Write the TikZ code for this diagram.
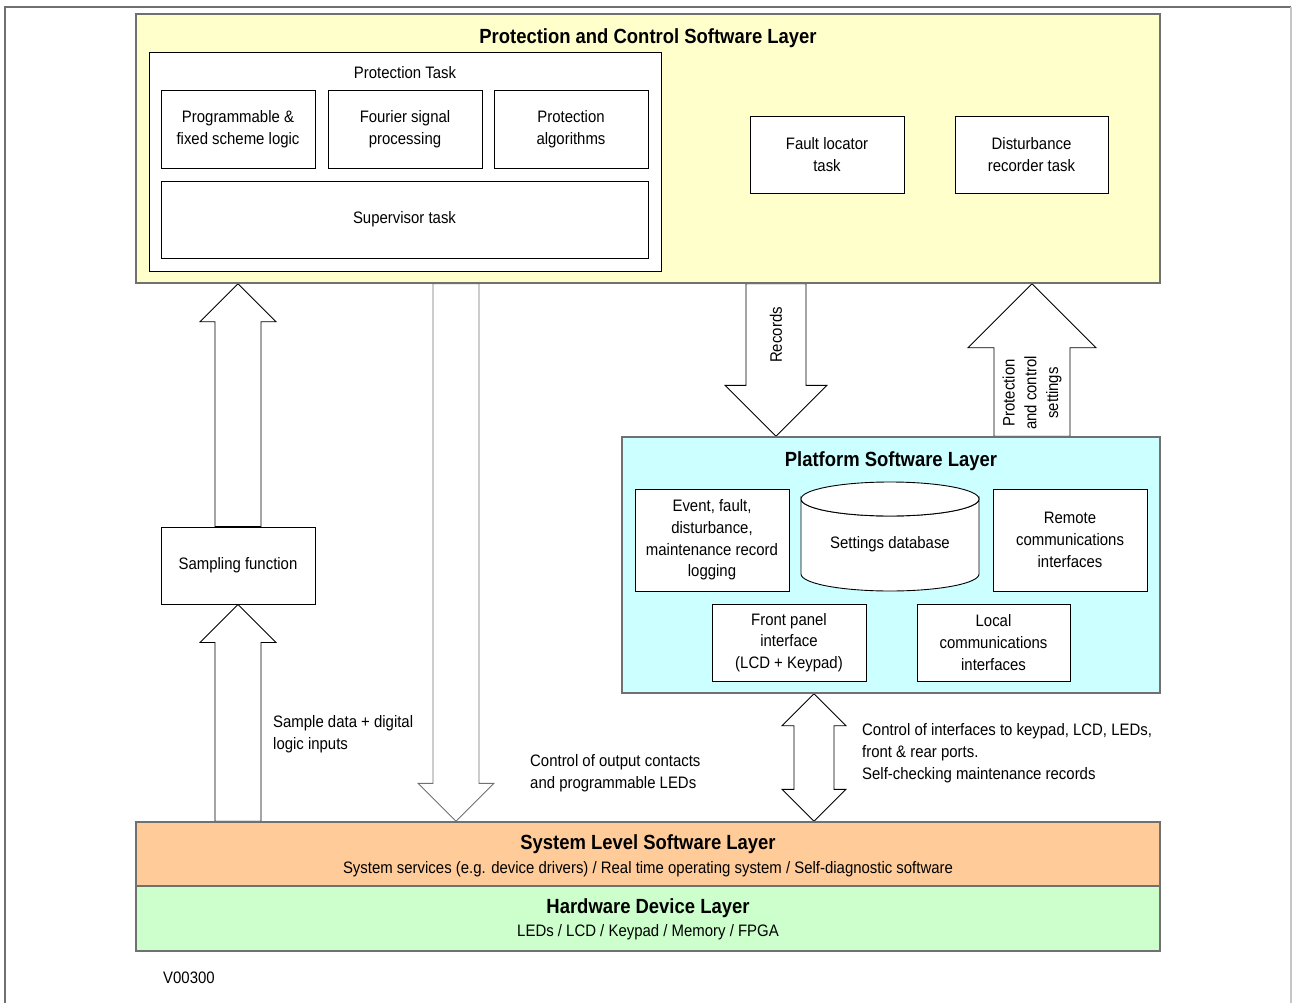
\documentclass[tikz,border=0pt]{standalone}
\usepackage{fontspec}
\setmainfont{Liberation Sans}[FakeStretch=0.9]
\usetikzlibrary{calc,backgrounds}
\definecolor{pcly}{HTML}{FFFFCC}
\definecolor{platc}{HTML}{CCFFFF}
\definecolor{syso}{HTML}{FFCC99}
\definecolor{hwg}{HTML}{CCFFCC}
\definecolor{framegray}{HTML}{707070}
% #2 base point, #3 tip point, #4 shaft half width, #5 head half width, #6 direction (1 up, (-1) down)
\newcommand\vblockarrow[6][]{%
  \path[blockarr,#1] let \p1=(#2), \p2=(#3) in
   ({\x1-#4pt},\y1) -- ({\x1-#4pt},{\y2-#6*#5pt}) -- ({\x1-#5pt},{\y2-#6*#5pt}) -- (\x2,\y2)
   -- ({\x1+#5pt},{\y2-#6*#5pt}) -- ({\x1+#4pt},{\y2-#6*#5pt}) -- ({\x1+#4pt},\y1) -- cycle;}
\begin{document}
\begin{tikzpicture}[x=1pt,y=-1pt,
  txt/.style={font=\fontsize{16.6}{21.7}\selectfont, align=center, inner sep=0pt},
  ltxt/.style={font=\fontsize{16.6}{21.7}\selectfont, align=left, inner sep=0pt, anchor=west},
  ttl/.style={font=\fontsize{20.5}{24}\selectfont\bfseries, inner sep=0pt},
  layer/.style={draw=framegray, line width=1.4pt, inner sep=0pt},
  box/.style={draw=black, line width=0.9pt, fill=white, inner sep=0pt, align=center,
              font=\fontsize{16.6}{21.7}\selectfont},
  blockarr/.style={draw=black, line width=0.9pt, fill=white, line join=miter},
]
\useasboundingbox (0,0) rectangle (1292,1003);
% outer frame
\draw[framegray, line width=2pt] (5,1003) -- (5,7) -- (1291,7);
\draw[gray!45, line width=1.2pt] (1291,7) -- (1291,1003);

% Protection and control software layer
\node[layer, fill=pcly, minimum width=1024pt, minimum height=269pt] (pcl) at (648,148.5) {};
\node[ttl] (pcltitle) at (648,38.5) {Protection and Control Software Layer};
\node[box, minimum width=512pt, minimum height=219pt] (ptask) at (405,161.5) {};
\node[txt] (ptasklbl) at (405,73) {Protection Task};
\node[box, minimum width=154pt, minimum height=78pt] (prog) at (238,129) {Programmable \&\\fixed scheme logic};
\node[box, minimum width=154pt, minimum height=78pt] (fourier) at (405,129) {Fourier signal\\processing};
\node[box, minimum width=154pt, minimum height=78pt] (alg) at (571,129) {Protection\\algorithms};
\node[box, minimum width=487pt, minimum height=77pt] (sup) at (404.5,219.5) {Supervisor task};
\node[box, minimum width=154pt, minimum height=77pt] (fault) at (827,154.5) {Fault locator\\task};
\node[box, minimum width=153pt, minimum height=77pt] (dist) at (1031.5,154.5) {Disturbance\\recorder task};

% sampling
\node[box, minimum width=154pt, minimum height=77pt] (samp) at (238,565.5) {Sampling function};

% platform layer
\node[layer, fill=platc, minimum width=538pt, minimum height=256pt] (plat) at (891,565) {};
\node[ttl] (plattitle) at (891,461.5) {Platform Software Layer};
\node[box, minimum width=154pt, minimum height=102pt] (event) at (712,540) {Event, fault,\\disturbance,\\maintenance record\\logging};
\filldraw[draw=black, line width=0.9pt, fill=white] (801,499) -- (801,574) arc (180:0:89 and 17) -- (979,499) arc (0:180:89 and 17) -- cycle;
\filldraw[draw=black, line width=0.9pt, fill=white] (890,499) ellipse (89 and 17);
\node[txt] (db) at (890,544) {Settings database};
\node[box, minimum width=154pt, minimum height=102pt] (remote) at (1070,540) {Remote\\communications\\interfaces};
\node[box, minimum width=154pt, minimum height=77pt] (front) at (789,642.5) {Front panel\\interface\\(LCD + Keypad)};
\node[box, minimum width=153pt, minimum height=77pt] (local) at (993.5,642.5) {Local\\communications\\interfaces};

% system and hardware layers
\node[layer, fill=syso, minimum width=1024pt, minimum height=64pt] (sys) at (648,854) {};
\node[ttl] (systitle) at (648,844.5) {System Level Software Layer};
\node[txt] (syssub) at (648,869) {System services (e.g. device drivers) / Real time operating system / Self-diagnostic software};
\node[layer, fill=hwg, minimum width=1024pt, minimum height=65pt] (hw) at (648,918.5) {};
\node[ttl] (hwtitle) at (648,908.5) {Hardware Device Layer};
\node[txt] (hwsub) at (648,932) {LEDs / LCD / Keypad / Memory / FPGA};

% labels
\node[ltxt] (samplbl) at (273,734) {Sample data + digital\\logic inputs};
\node[ltxt] (outlbl) at (530,773) {Control of output contacts\\and programmable LEDs};
\node[ltxt] (iflbl) at (862,753) {Control of interfaces to keypad, LCD, LEDs,\\front \& rear ports.\\Self-checking maintenance records};
\node[ltxt] (ver) at (163,978) {V00300};

% arrow positions
\coordinate (outx) at (456,0);
\coordinate (recx) at (776,0);
\coordinate (setx) at (1032,0);
\coordinate (ifx) at (814,0);

\begin{scope}[on background layer]
  \vblockarrow{samp.north}{samp.north |- pcl.south}{23}{38}{1}
  \vblockarrow{samp.south |- sys.north}{samp.south}{23}{38}{1}
  \vblockarrow[draw=framegray]{pcl.south -| outx}{sys.north -| outx}{23}{38}{(-1)}
  \vblockarrow{pcl.south -| recx}{plat.north -| recx}{30}{51}{(-1)}
  \vblockarrow{plat.north -| setx}{pcl.south -| setx}{38}{64}{1}
  \path[blockarr] let \p1=(plat.south -| ifx), \p2=(sys.north -| ifx) in
    (\x1,\y1) -- ({\x1+32pt},{\y1-32pt}) -- ({\x1+20pt},{\y1-32pt}) -- ({\x1+20pt},{\y2+32pt})
    -- ({\x1+32pt},{\y2+32pt}) -- (\x2,\y2) -- ({\x1-32pt},{\y2+32pt}) -- ({\x1-20pt},{\y2+32pt})
    -- ({\x1-20pt},{\y1-32pt}) -- ({\x1-32pt},{\y1-32pt}) -- cycle;
\end{scope}
\node[txt, rotate=90] (reclbl) at (776,335) {Records};
\node[txt, rotate=90] (setlbl) at (1032,393) {Protection\\and control\\settings};
\end{tikzpicture}
\end{document}
